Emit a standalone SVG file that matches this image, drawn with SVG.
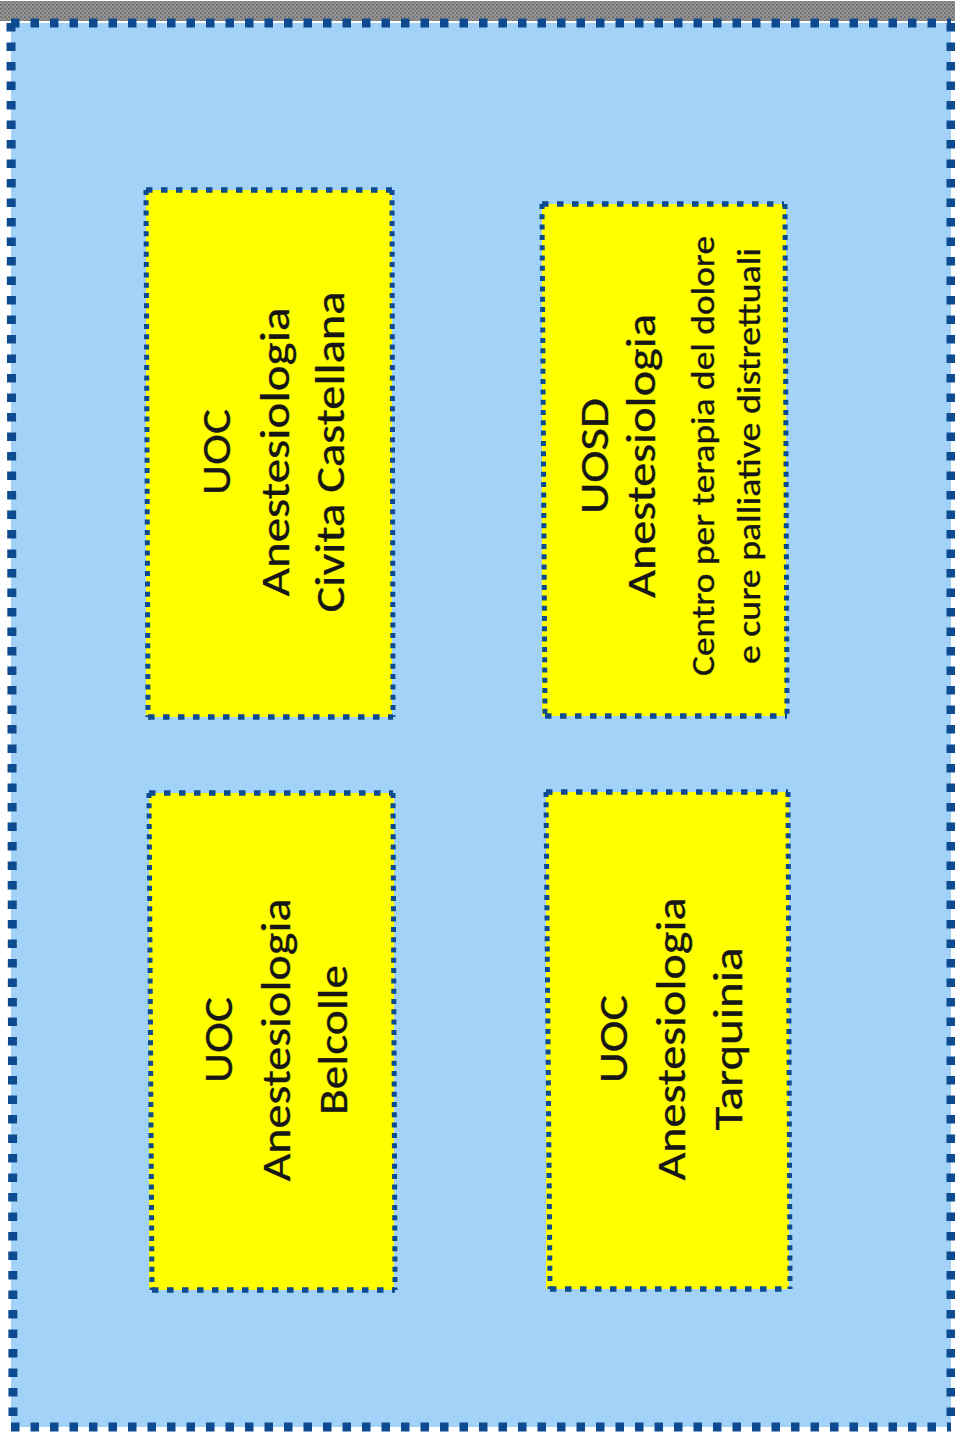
<svg xmlns="http://www.w3.org/2000/svg" width="955" height="1433" viewBox="0 0 955 1433">
  <defs>
    <!-- grainy grey strip along the top edge -->
    <pattern id="grain" width="4" height="4" patternUnits="userSpaceOnUse">
      <rect width="4" height="4" fill="#959595"/>
      <rect width="2" height="2" fill="#737373"/>
      <rect x="2" y="2" width="2" height="2" fill="#808080"/>
    </pattern>
    <style>
      .frame-dots { stroke: #0d4a8f; stroke-width: 9; stroke-dasharray: 8.5 11; fill: none; }
      .box { fill: #ffff00; }
      .dots-h { stroke: #0d4a8f; stroke-width: 5.5; stroke-dasharray: 6.5 8.5; fill: none; }
      .dots-v { stroke: #0d4a8f; stroke-width: 5; stroke-dasharray: 5 5.3; fill: none; }
      .lbl { font-family: Carlito, "Open Sans", "Liberation Sans", sans-serif; fill: #161616; stroke: #161616; stroke-width: 0.35; text-anchor: middle; }
      .big { font-size: 42px; }
      .small { font-size: 33px; }
    </style>
  </defs>

  <!-- page -->
  <rect width="955" height="1433" fill="#ffffff"/>
  <rect x="0" y="1" width="955" height="20" fill="url(#grain)"/>

  <!-- outer panel -->
  <g id="panel">
    <rect x="11" y="23" width="940" height="1404" fill="#a2d2f7"/>
    <line class="frame-dots" x1="11" y1="23" x2="951" y2="23"/>
    <line class="frame-dots" x1="11" y1="1427" x2="951" y2="1427"/>
    <line class="frame-dots" x1="11" y1="23" x2="13" y2="1427"/>
    <line class="frame-dots" x1="951" y1="23" x2="951" y2="1427"/>
  </g>

  <!-- UOC Anestesiologia Civita Castellana -->
  <g id="uoc-civita-castellana">
    <rect class="box" x="146" y="190" width="246" height="527"/>
    <line class="dots-h" x1="146" y1="190" x2="392" y2="190"/>
    <line class="dots-h" x1="148" y1="717" x2="393" y2="717"/>
    <line class="dots-v" x1="146" y1="190" x2="148" y2="717"/>
    <line class="dots-v" x1="392" y1="190" x2="393" y2="717"/>
    <g transform="translate(0,452) rotate(-90)">
      <text class="lbl big" x="0" y="230" textLength="86" lengthAdjust="spacingAndGlyphs">UOC</text>
      <text class="lbl big" x="0" y="289" textLength="289" lengthAdjust="spacingAndGlyphs">Anestesiologia</text>
      <text class="lbl big" x="0" y="344" textLength="321" lengthAdjust="spacingAndGlyphs">Civita Castellana</text>
    </g>
  </g>

  <!-- UOC Anestesiologia Belcolle -->
  <g id="uoc-belcolle">
    <rect class="box" x="149" y="793" width="245" height="497"/>
    <line class="dots-h" x1="149" y1="793" x2="393" y2="793"/>
    <line class="dots-h" x1="152" y1="1290" x2="395" y2="1290"/>
    <line class="dots-v" x1="149" y1="793" x2="152" y2="1290"/>
    <line class="dots-v" x1="393" y1="793" x2="395" y2="1290"/>
    <g transform="translate(0,1040) rotate(-90)">
      <text class="lbl big" x="0" y="232" textLength="86" lengthAdjust="spacingAndGlyphs">UOC</text>
      <text class="lbl big" x="0" y="290" textLength="283" lengthAdjust="spacingAndGlyphs">Anestesiologia</text>
      <text class="lbl big" x="0" y="347" textLength="150" lengthAdjust="spacingAndGlyphs">Belcolle</text>
    </g>
  </g>

  <!-- UOSD Anestesiologia, centro terapia del dolore -->
  <g id="uosd-terapia-dolore">
    <rect class="box" x="542" y="204" width="244" height="512"/>
    <line class="dots-h" x1="542" y1="204" x2="784" y2="204"/>
    <line class="dots-h" x1="545" y1="716" x2="787" y2="716"/>
    <line class="dots-v" x1="542" y1="204" x2="545" y2="716"/>
    <line class="dots-v" x1="785" y1="204" x2="787" y2="716"/>
    <g transform="translate(0,456) rotate(-90)">
      <text class="lbl big" x="0" y="608" textLength="116" lengthAdjust="spacingAndGlyphs">UOSD</text>
      <text class="lbl big" x="0" y="655" textLength="284" lengthAdjust="spacingAndGlyphs">Anestesiologia</text>
      <text class="lbl small" x="0" y="714" textLength="440" lengthAdjust="spacingAndGlyphs">Centro per terapia del dolore</text>
      <text class="lbl small" x="0" y="760" textLength="416" lengthAdjust="spacingAndGlyphs">e cure palliative distrettuali</text>
    </g>
  </g>

  <!-- UOC Anestesiologia Tarquinia -->
  <g id="uoc-tarquinia">
    <rect class="box" x="546" y="792" width="243" height="497"/>
    <line class="dots-h" x1="546" y1="792" x2="788" y2="792"/>
    <line class="dots-h" x1="550" y1="1289" x2="790" y2="1289"/>
    <line class="dots-v" x1="546" y1="792" x2="550" y2="1289"/>
    <line class="dots-v" x1="788" y1="792" x2="790" y2="1289"/>
    <g transform="translate(0,1039) rotate(-90)">
      <text class="lbl big" x="0" y="627" textLength="88" lengthAdjust="spacingAndGlyphs">UOC</text>
      <text class="lbl big" x="0" y="685" textLength="283" lengthAdjust="spacingAndGlyphs">Anestesiologia</text>
      <text class="lbl big" x="0" y="742" textLength="183" lengthAdjust="spacingAndGlyphs">Tarquinia</text>
    </g>
  </g>

  <!-- no connectors in this chart -->
  <g id="connectors"/>
</svg>
